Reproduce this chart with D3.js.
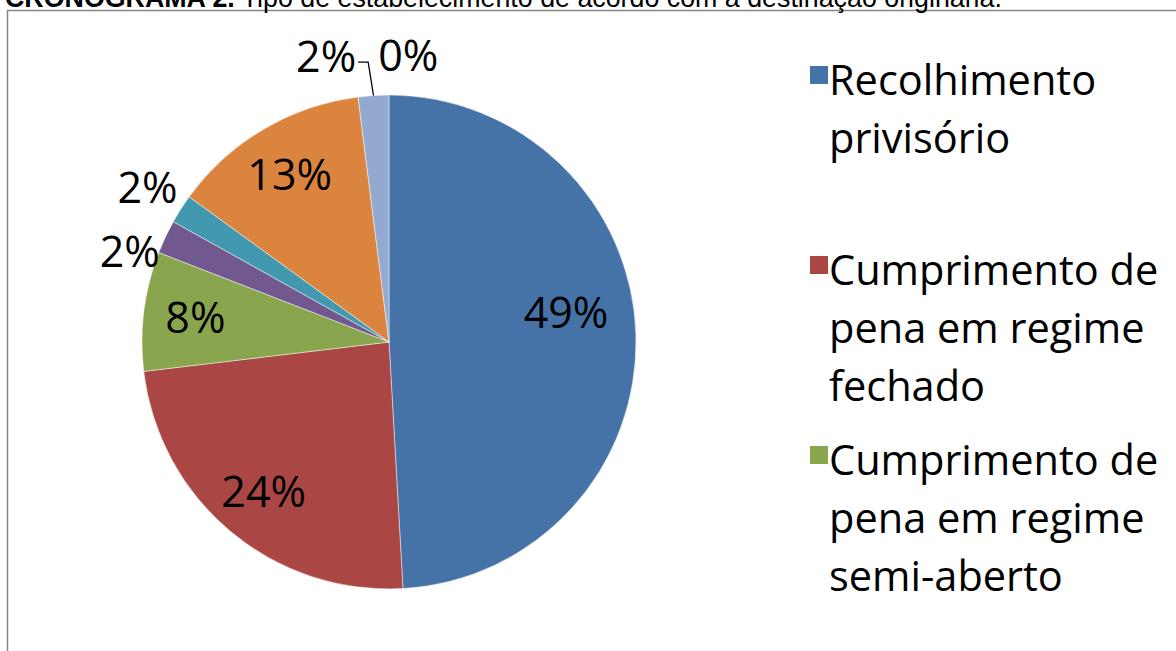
<!DOCTYPE html>
<html>
<head>
<meta charset="utf-8">
<style>
    body { margin: 0; background: #fff; }
    svg { display: block; }
    .caption { font-family: "Liberation Sans", Arial, sans-serif; font-size: 26.8px; }
    .lbl { font-family: "Open Sans", sans-serif; font-size: 43px; fill: #000; }
    .legend text { font-family: "Open Sans", sans-serif; font-size: 41.5px; fill: #000; }
</style>
</head>
<body>
<div id="chart"></div>
<script src="https://cdnjs.cloudflare.com/ajax/libs/d3/7.8.5/d3.min.js"></script>
<script>
// slices, clockwise from 12 o'clock (percent)
var categories = ["Recolhimento privisório",
                  "Cumprimento de pena em regime fechado",
                  "Cumprimento de pena em regime semi-aberto",
                  "Categoria 4", "Categoria 5", "Categoria 6", "Categoria 7", "Categoria 8"];
var values = [49.1, 24.0, 7.8, 2.2, 1.9, 13.0, 2.0, 0.0];
var colors = ["#4572A7", "#AA4643", "#89A54E", "#71588F", "#4198AF", "#DB843D", "#93A9CF", "#D19392"];
// legend is cut by the frame: only the first three entries show
var legendLines = [["Recolhimento", "privisório"],
                   ["Cumprimento de", "pena em regime", "fechado"],
                   ["Cumprimento de", "pena em regime", "semi-aberto"]];
var captionBold = "CRONOGRAMA 2.";
var captionText = " Tipo de estabelecimento de acordo com a destinação originária.";

(function() {
    var width = 1176, height = 651;
    var cx = 389, cy = 342, r = 247;

    var svg = d3.select("#chart").append("svg")
        .attr("width", width)
        .attr("height", height);

    // frame of the chart area (runs off the page right and bottom)
    svg.append("rect")
        .attr("x", 7.5).attr("y", 10.5)
        .attr("width", 1300).attr("height", 800)
        .attr("fill", "#fff")
        .attr("stroke", "#868686")
        .attr("stroke-width", 1.5);

    var cap = svg.append("text").attr("class", "caption").attr("x", 5).attr("y", 7);
    cap.append("tspan").attr("font-weight", "bold").text(captionBold);
    cap.append("tspan").text(captionText);

    var data = categories.map(function(c, i) { return {name: c, value: values[i], color: colors[i]}; });

    var pie = d3.pie().sort(null).value(function(d) { return d.value; });
    var arcs = pie(data);
    var arc = d3.arc().innerRadius(0).outerRadius(r);

    var g = svg.append("g").attr("transform", "translate(" + cx + "," + cy + ")");

    g.selectAll("path.slice")
        .data(arcs.filter(function(d) { return d.data.value > 0; }))
        .enter().append("path")
        .attr("class", "slice")
        .attr("d", arc)
        .attr("fill", function(d) { return d.data.color; })
        .attr("stroke", "#fff")
        .attr("stroke-opacity", 0.6)
        .attr("stroke-width", 0.8);

    // labels
    var inArc = d3.arc().innerRadius(r * 0.79).outerRadius(r * 0.79);
    var outR = r * 1.16;
    var labels = arcs.map(function(d) {
        var mid = (d.startAngle + d.endAngle) / 2;
        var inside = d.data.value >= 5;
        var p = inside ? inArc.centroid(d) : [Math.sin(mid) * outR, -Math.cos(mid) * outR];
        // big slice: excel's best fit sits the label a little above the mid line
        if (inside && d.data.value > 40) { p[0] -= 18; p[1] -= 24; }
        return {d: d, mid: mid, inside: inside, x: p[0], y: p[1], x0: p[0], y0: p[1],
                text: Math.round(d.data.value) + "%"};
    });

    var lt = g.selectAll("text.lbl")
        .data(labels)
        .enter().append("text")
        .attr("class", "lbl")
        .attr("text-anchor", "middle")
        .attr("dy", "0.36em")
        .text(function(d) { return d.text; });
    lt.each(function(d) { d.w = this.getComputedTextLength(); });

    // simple overlap removal for the outside labels
    var outs = labels.filter(function(l) { return !l.inside; });
    var minDy = 64, gapX = 22;
    for (var i = 0; i < outs.length; i++) {
        for (var j = i + 1; j < outs.length; j++) {
            var a = outs[i], b = outs[j];
            var dx = b.x - a.x, dy = b.y - a.y;
            var needX = (a.w + b.w) / 2 + gapX;
            if (Math.abs(dx) < needX && Math.abs(dy) < minDy) {
                if (Math.abs(dy) > minDy * 0.4) {
                    // stack vertically: lower one goes down
                    if (dy > 0) b.y = a.y + minDy; else a.y = b.y + minDy;
                } else {
                    var left = dx >= 0 ? a : b, right = dx >= 0 ? b : a;
                    var over = needX - Math.abs(dx);
                    left.x -= over * 0.7;
                    right.x += over * 0.3;
                }
            }
        }
    }

    lt.attr("x", function(d) { return d.x; })
      .attr("y", function(d) { return d.y; });

    // leader lines for labels pushed far from their slice
    var leaders = outs.filter(function(l) {
        return Math.hypot(l.x - l.x0, l.y - l.y0) > 38;
    });
    g.selectAll("path.leader")
        .data(leaders)
        .enter().append("path")
        .attr("class", "leader")
        .attr("fill", "none")
        .attr("stroke", "#000")
        .attr("stroke-width", 1.3)
        .attr("d", function(l) {
            var sx = l.x + l.w / 2 + 2, sy = l.y + 6;
            var ex = Math.sin(l.mid) * r, ey = -Math.cos(l.mid) * r;
            return d3.line()([[sx, sy], [sx + 10, sy], [ex, ey]]);
        });

    // legend
    var lineH = 58, itemH = 190;
    var leg = svg.append("g").attr("class", "legend").attr("transform", "translate(810,66)");
    var items = leg.selectAll("g.item")
        .data(legendLines)
        .enter().append("g")
        .attr("class", "item")
        .attr("transform", function(d, i) { return "translate(0," + (i * itemH) + ")"; });
    items.append("rect")
        .attr("width", 18).attr("height", 18)
        .attr("fill", function(d, i) { return colors[i]; });
    items.each(function(lines) {
        var t = d3.select(this).append("text");
        lines.forEach(function(s, k) {
            t.append("tspan").attr("x", 19).attr("y", 29 + k * lineH).text(s);
        });
    });
})();
</script>
</body>
</html>
